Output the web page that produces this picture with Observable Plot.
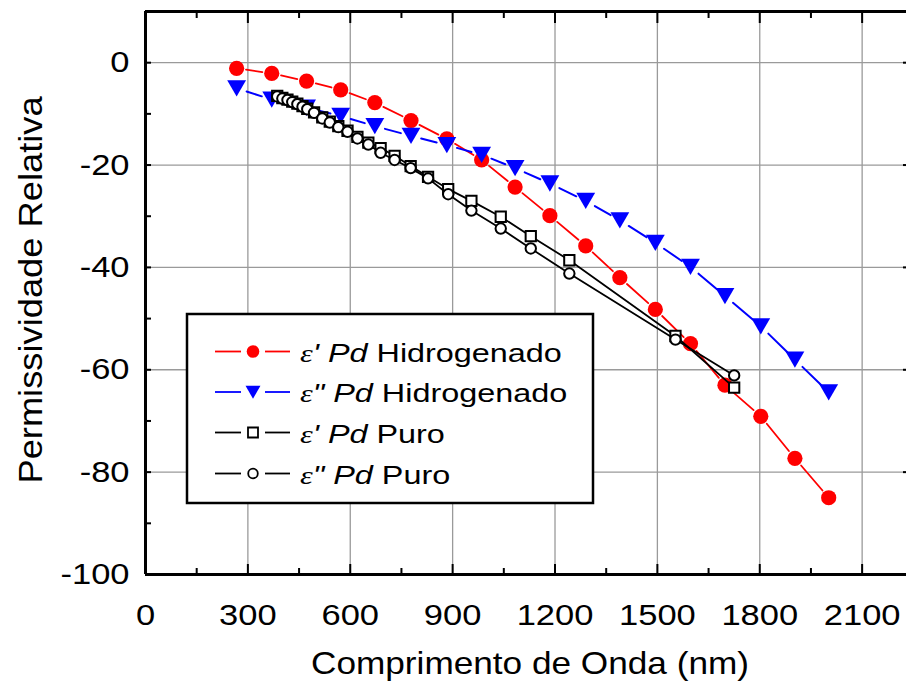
<!DOCTYPE html>
<html><head><meta charset="utf-8">
<script src="https://cdn.jsdelivr.net/npm/d3@7"></script>
<script src="https://cdn.jsdelivr.net/npm/@observablehq/plot@0.6"></script>
<style>
html,body{margin:0;padding:0;background:#fff;overflow:hidden}
#chart{position:relative;width:906px;height:681px}
</style>
</head><body><div id="chart"></div>
<script>
// ---- data ----
const lambdaH = [267, 370, 472, 572, 672, 778, 883, 985, 1083, 1185, 1290, 1390, 1494, 1597, 1698, 1803, 1903, 2002];
const epsRealH = [-1.1, -2.1, -3.6, -5.3, -7.8, -11.3, -14.9, -19.0, -24.3, -29.9, -35.8, -42.0, -48.2, -54.9, -63.0, -69.1, -77.3, -85.0];
const epsImagH = [-5.0, -7.2, -8.8, -10.4, -12.4, -14.3, -16.1, -18.0, -20.6, -23.6, -27.0, -30.8, -35.2, -39.9, -45.6, -51.5, -58.0, -64.4];

const lambdaPuro = [386, 401, 416, 430, 445, 460, 474, 494, 518, 540, 565, 592, 621, 653, 689, 730, 777, 828, 887, 955, 1041, 1129, 1242, 1553, 1725];
const epsRealPuro = [-6.5, -6.9, -7.2, -7.6, -8.0, -8.5, -9.0, -9.7, -10.7, -11.5, -12.4, -13.3, -14.5, -15.6, -16.7, -18.2, -20.2, -22.3, -24.7, -27.0, -30.1, -33.9, -38.6, -53.4, -63.5];
const epsImagPuro = [-6.6, -7.0, -7.3, -7.7, -8.1, -8.6, -9.1, -9.8, -10.9, -11.7, -12.6, -13.5, -14.8, -16.0, -17.6, -19.0, -20.6, -22.6, -25.7, -28.9, -32.4, -36.3, -41.2, -54.1, -61.1];

const xTicks = [0, 300, 600, 900, 1200, 1500, 1800, 2100];
const xMinor = [150, 450, 750, 1050, 1350, 1650, 1950];
const yTicks = [0, -20, -40, -60, -80, -100];
const yMinor = [-10, -30, -50, -70, -90];
const xDomain = [0, 2230];
const yDomain = [-100, 10];

const xTitle = "Comprimento de Onda (nm)";
const yTitle = "Permissividade Relativa";
const legendSymbol = ["ε", "ε", "ε", "ε"];
const legendPrime = ["'", "\"", "'", "\""];
const legendMetal = ["Pd", "Pd", "Pd", "Pd"];
const legendMaterial = ["Hidrogenado", "Hidrogenado", "Puro", "Puro"];

// ---- tables ----
const hid = lambdaH.map((x, i) => ({x, re: epsRealH[i], im: epsImagH[i]}));
const puro = lambdaPuro.map((x, i) => ({x, re: epsRealPuro[i], im: epsImagPuro[i]}));
const segs = (arr, key) => arr.slice(1).map((d, i) => ({x1: arr[i].x, y1: arr[i][key], x2: d.x, y2: d[key]}));

const W = 906, H = 681, mL = 145, mT = 11, mR = 0, mB = 107;
const fH = H - mT - mB, fW = W - mL - mR;
const FONT = "'Liberation Sans', Arial, Helvetica, sans-serif";

const plot = Plot.plot({
  width: W, height: H,
  marginLeft: mL, marginTop: mT, marginRight: mR, marginBottom: mB,
  style: {fontFamily: FONT, background: "white", color: "black", overflow: "hidden"},
  x: {domain: xDomain},
  y: {domain: yDomain},
  marks: [
    // grid
    Plot.ruleX(xTicks.filter(d => d > 0), {stroke: "#9a9a9a", strokeWidth: 1.3}),
    Plot.ruleY(yTicks.filter(d => d > -100), {stroke: "#9a9a9a", strokeWidth: 1.3}),
    // tick marks (inward)
    Plot.ruleX(xTicks, {insetTop: fH - 10, stroke: "black", strokeWidth: 2}),
    Plot.ruleX(xMinor, {insetTop: fH - 6, stroke: "black", strokeWidth: 2}),
    Plot.ruleX(xTicks, {insetBottom: fH - 12, stroke: "black", strokeWidth: 2}),
    Plot.ruleX(xMinor, {insetBottom: fH - 7, stroke: "black", strokeWidth: 2}),
    Plot.ruleY(yTicks, {insetRight: fW - 6, stroke: "black", strokeWidth: 2}),
    Plot.ruleY(yMinor, {insetRight: fW - 6, stroke: "black", strokeWidth: 2}),
    Plot.ruleY(yTicks, {insetLeft: fW - 3, stroke: "black", strokeWidth: 2}),
    // frame (left, top, bottom)
    Plot.ruleX([xDomain[0]], {stroke: "black", strokeWidth: 3}),
    Plot.ruleY([yDomain[0]], {stroke: "black", strokeWidth: 3}),
    Plot.ruleY([yDomain[1]], {stroke: "black", strokeWidth: 3}),
    // axes labels
    Plot.axisX({ticks: xTicks, tickSize: 0, tickPadding: 29, fontSize: 30, tickFormat: d => String(d), label: null}),
    Plot.axisY({ticks: yTicks, tickSize: 0, tickPadding: 16, fontSize: 30, tickFormat: d => String(d), label: null}),
    Plot.text([xTitle], {frameAnchor: "bottom", dy: 99, dx: 4, lineAnchor: "bottom", textAnchor: "middle", fontSize: 32, text: d => d}),
    Plot.text([yTitle], {frameAnchor: "left", rotate: -90, dx: -104, dy: -3, lineAnchor: "bottom", textAnchor: "middle", fontSize: 33, text: d => d}),
    // ε' Pd Hidrogenado
    Plot.arrow(segs(hid, "re"), {x1: "x1", y1: "y1", x2: "x2", y2: "y2", headLength: 0, insetStart: 9.5, insetEnd: 9.5, stroke: "#ff0000", strokeWidth: 1.8}),
    Plot.dot(hid, {x: "x", y: "re", r: 7.6, fill: "#ff0000", stroke: "none"}),
    // ε'' Pd Hidrogenado
    Plot.arrow(segs(hid, "im"), {x1: "x1", y1: "y1", x2: "x2", y2: "y2", headLength: 0, insetStart: 10.5, insetEnd: 10.5, stroke: "#0000ff", strokeWidth: 2}),
    Plot.dot(hid, {x: "x", y: "im", symbol: "triangle", rotate: 180, r: 7, dy: -2.7, fill: "#0000ff", stroke: "none"}),
    // ε' Pd Puro
    Plot.line(puro, {x: "x", y: "re", stroke: "black", strokeWidth: 1.8}),
    Plot.dot(puro, {x: "x", y: "re", symbol: "square", r: 5.8, fill: "white", stroke: "black", strokeWidth: 2}),
    // ε'' Pd Puro
    Plot.line(puro, {x: "x", y: "im", stroke: "black", strokeWidth: 1.8}),
    Plot.dot(puro, {x: "x", y: "im", symbol: "circle", r: 5.2, fill: "white", stroke: "black", strokeWidth: 2})
  ]
});

// horizontal stretch of the text to match the reference lettering
function stretch(el, s) {
  const x = +el.getAttribute("x") || 0;
  const t = el.getAttribute("transform") || "";
  el.setAttribute("transform", `${t} translate(${x},0) scale(${s},1) translate(${-x},0)`);
}
d3.select(plot).selectAll("text").each(function() {
  const txt = this.textContent;
  if (txt === xTitle || txt === yTitle) stretch(this, 1.1);
  else stretch(this, 1.15);
});

// legend inside the plot
const svg = d3.select(plot);
const lg = svg.append("g").attr("font-family", FONT).attr("text-anchor", "start");
lg.append("rect").attr("x", 187).attr("y", 314).attr("width", 406).attr("height", 189)
  .attr("fill", "white").attr("stroke", "black").attr("stroke-width", 2.5);
const legColors = ["#ff0000", "#0000ff", "black", "black"];
const legSyms = [
  {type: d3.symbolCircle, size: Math.PI * 6.3 * 6.3, fill: "#ff0000", stroke: "none", rot: 0, dy: 0},
  {type: d3.symbolTriangle, size: 97, fill: "#0000ff", stroke: "none", rot: 180, dy: -2},
  {type: d3.symbolSquare, size: 100, fill: "white", stroke: "black", rot: 0, dy: 0},
  {type: d3.symbolCircle, size: Math.PI * 4.8 * 4.8, fill: "white", stroke: "black", rot: 0, dy: 0}
];
const baselines = [361.5, 402, 442.5, 483.5];
legendMaterial.forEach((mat, i) => {
  const b = baselines[i], cy = b - 10;
  const g = lg.append("g");
  g.append("line").attr("x1", 215).attr("x2", 241).attr("y1", cy).attr("y2", cy).attr("stroke", legColors[i]).attr("stroke-width", 1.8);
  g.append("line").attr("x1", 265).attr("x2", 290).attr("y1", cy).attr("y2", cy).attr("stroke", legColors[i]).attr("stroke-width", 1.8);
  const s = legSyms[i];
  g.append("path").attr("d", d3.symbol(s.type, s.size)())
    .attr("transform", `translate(253,${cy + s.dy}) rotate(${s.rot})`)
    .attr("fill", s.fill).attr("stroke", s.stroke).attr("stroke-width", 1.8);
  const t = g.append("text").attr("transform", `translate(300,${b}) scale(1.27,1)`)
    .attr("text-anchor", "start").attr("font-size", 25.5).attr("fill", "black");
  t.append("tspan").attr("font-family", "'Liberation Serif', 'Times New Roman', serif").attr("font-style", "italic").text(legendSymbol[i]);
  t.append("tspan").attr("font-style", "italic").text(legendPrime[i] + " " + legendMetal[i]);
  t.append("tspan").text(" " + mat);
});

document.getElementById("chart").appendChild(plot);
</script>
</body></html>
